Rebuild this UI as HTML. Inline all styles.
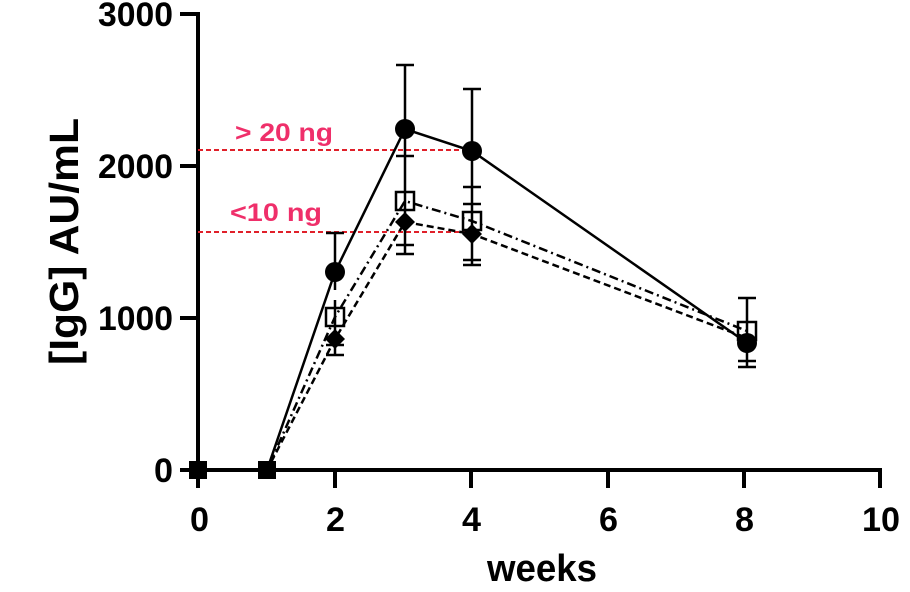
<!DOCTYPE html>
<html><head><meta charset="utf-8"><style>
html,body{margin:0;padding:0;background:#fff;}
svg{display:block;font-family:"Liberation Sans",Arial,sans-serif;font-weight:bold;}
</style></head><body>
<svg width="910" height="592" viewBox="0 0 910 592" xmlns="http://www.w3.org/2000/svg">
<g stroke="#000" stroke-width="4" fill="none">
<line x1="198" y1="12" x2="198" y2="488"/>
<line x1="180" y1="470" x2="882" y2="470"/>
<line x1="180" y1="14" x2="198" y2="14"/>
<line x1="180" y1="166" x2="198" y2="166"/>
<line x1="180" y1="318" x2="198" y2="318"/>
<line x1="335" y1="470" x2="335" y2="488"/>
<line x1="471" y1="470" x2="471" y2="488"/>
<line x1="608" y1="470" x2="608" y2="488"/>
<line x1="744" y1="470" x2="744" y2="488"/>
<line x1="880" y1="470" x2="880" y2="488"/>
</g>
<g font-size="34" fill="#000">
<text x="98" y="26" textLength="75" lengthAdjust="spacingAndGlyphs">3000</text>
<text x="98" y="178" textLength="75" lengthAdjust="spacingAndGlyphs">2000</text>
<text x="98" y="330" textLength="75" lengthAdjust="spacingAndGlyphs">1000</text>
<text x="154" y="482" textLength="19" lengthAdjust="spacingAndGlyphs">0</text>
</g>
<g font-size="34" fill="#000">
<text x="190" y="531" textLength="19" lengthAdjust="spacingAndGlyphs">0</text>
<text x="326" y="531" textLength="19" lengthAdjust="spacingAndGlyphs">2</text>
<text x="462" y="531" textLength="19" lengthAdjust="spacingAndGlyphs">4</text>
<text x="599" y="531" textLength="19" lengthAdjust="spacingAndGlyphs">6</text>
<text x="735" y="531" textLength="19" lengthAdjust="spacingAndGlyphs">8</text>
<text x="862" y="531" textLength="38" lengthAdjust="spacingAndGlyphs">10</text>
<text x="487" y="581" font-size="38" textLength="110" lengthAdjust="spacingAndGlyphs">weeks</text>
</g>
<text transform="translate(78,365) rotate(-90)" font-size="41" fill="#000" textLength="247" lengthAdjust="spacingAndGlyphs">[IgG] AU/mL</text>
<g stroke="#e0202a" stroke-width="2" stroke-dasharray="5,3">
<line x1="198" y1="150" x2="470" y2="150"/>
<line x1="198" y1="232" x2="470" y2="232"/>
</g>
<g fill="#ef2f6a" font-size="25">
<text x="235" y="141" textLength="98" lengthAdjust="spacingAndGlyphs">&gt; 20 ng</text>
<text x="230" y="221" textLength="92" lengthAdjust="spacingAndGlyphs">&lt;10 ng</text>
</g>
<g stroke="#000" stroke-width="2.5" fill="none">
<line x1="335" y1="233" x2="335" y2="290"/><line x1="326" y1="233" x2="344" y2="233"/>
<line x1="335" y1="300" x2="335" y2="355"/><line x1="326" y1="355" x2="344" y2="355"/><line x1="326" y1="345" x2="344" y2="345"/>
<line x1="405" y1="65" x2="405" y2="254"/><line x1="396" y1="65" x2="414" y2="65"/>
<line x1="396" y1="156" x2="414" y2="156"/><line x1="396" y1="245" x2="414" y2="245"/><line x1="396" y1="254" x2="414" y2="254"/>
<line x1="472" y1="89" x2="472" y2="264"/><line x1="463" y1="89" x2="481" y2="89"/>
<line x1="463" y1="187" x2="481" y2="187"/><line x1="463" y1="204" x2="481" y2="204"/><line x1="463" y1="260" x2="481" y2="260"/><line x1="463" y1="265" x2="481" y2="265"/>
<line x1="747" y1="298" x2="747" y2="367"/><line x1="738" y1="298" x2="756" y2="298"/>
<line x1="738" y1="361" x2="756" y2="361"/><line x1="738" y1="367" x2="756" y2="367"/>
</g>
<polyline points="199,470 267,470 335,272 405,129 472,151 747,343" stroke="#000" stroke-width="2.5" fill="none"/>
<polyline points="199,470 267,470 335,317 405,201 472,221 747,331" stroke="#000" stroke-width="2.5" fill="none" stroke-dasharray="9,4,2,4"/>
<polyline points="199,470 267,470 335,339 405,222 472,234 747,338" stroke="#000" stroke-width="2.5" fill="none" stroke-dasharray="7,4"/>
<g fill="#000">
<circle cx="335" cy="272" r="10"/><circle cx="405" cy="129" r="10"/><circle cx="472" cy="151" r="10"/><circle cx="747" cy="343" r="10"/>
<polygon points="335,329 345,339 335,349 325,339"/><polygon points="405,212 415,222 405,232 395,222"/><polygon points="472,224 482,234 472,244 462,234"/>
<rect x="189" y="461" width="18" height="18"/><rect x="258" y="461" width="18" height="18"/>
</g>
<g fill="none" stroke="#000" stroke-width="2.5">
<rect x="326" y="308" width="18" height="18"/><rect x="396" y="192" width="18" height="18"/><rect x="463" y="212" width="18" height="18"/><rect x="738" y="322" width="18" height="18"/>
</g>
</svg>
</body></html>
